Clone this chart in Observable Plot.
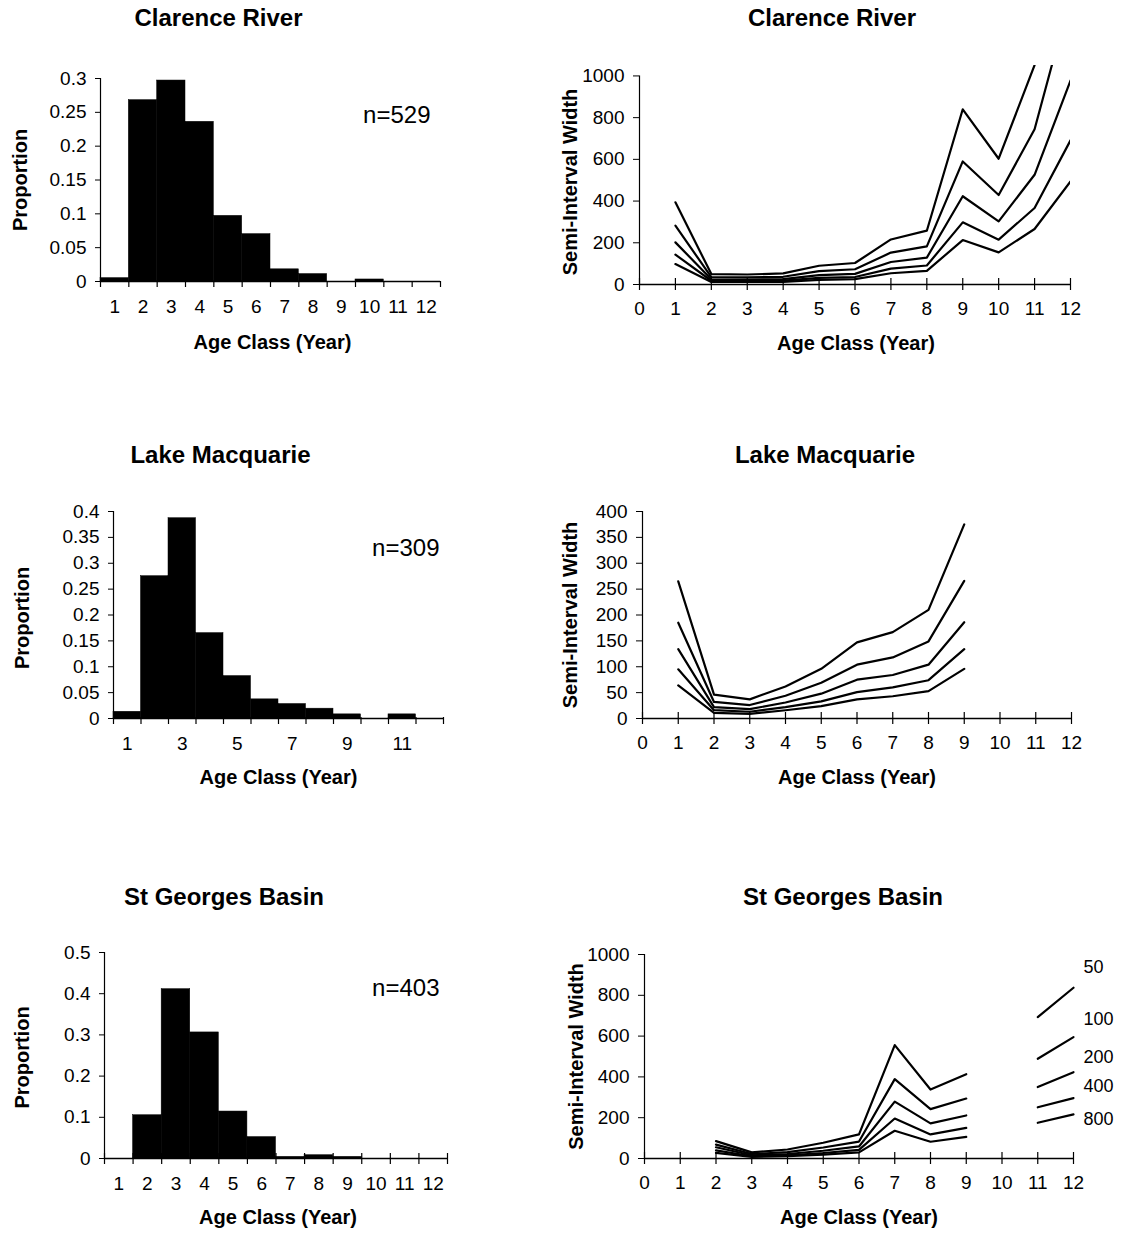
<!DOCTYPE html>
<html><head><meta charset="utf-8">
<script src="https://cdn.jsdelivr.net/npm/d3@7"></script>
<script src="https://cdn.jsdelivr.net/npm/@observablehq/plot@0.6"></script>
<style>
body{margin:0;background:#fff;}
#root{position:relative;width:1128px;height:1233px;background:#fff;overflow:hidden;}
#root svg{position:absolute;}
</style></head>
<body><div id="root"></div>
<script>
// ---------- data ----------
const ageClasses = [1, 2, 3, 4, 5, 6, 7, 8, 9, 10, 11, 12];
const clarenceProportion = [0.005, 0.268, 0.297, 0.236, 0.097, 0.070, 0.018, 0.011, 0, 0.003, 0, 0];
const lakeProportion     = [0.013, 0.275, 0.387, 0.165, 0.082, 0.037, 0.028, 0.019, 0.008, 0, 0.008, 0];
const stGeorgesProportion = [0, 0.105, 0.411, 0.306, 0.114, 0.052, 0.004, 0.008, 0.004, 0, 0, 0];

const clarenceN = "n=529";
const lakeN = "n=309";
const stGeorgesN = "n=403";

const clarencePropTicks = [0, 0.05, 0.1, 0.15, 0.2, 0.25, 0.3];
const lakePropTicks = [0, 0.05, 0.1, 0.15, 0.2, 0.25, 0.3, 0.35, 0.4];
const stGeorgesPropTicks = [0, 0.1, 0.2, 0.3, 0.4, 0.5];
const clarenceHistLabels = [1, 2, 3, 4, 5, 6, 7, 8, 9, 10, 11, 12];
const lakeHistLabels = [1, 3, 5, 7, 9, 11];
const stGeorgesHistLabels = [1, 2, 3, 4, 5, 6, 7, 8, 9, 10, 11, 12];

const sampleSizes = [50, 100, 200, 400, 800];
const widthXTicks = [0, 1, 2, 3, 4, 5, 6, 7, 8, 9, 10, 11, 12];

// Clarence River semi-interval widths, ages 1..12
const clarenceAges = [1, 2, 3, 4, 5, 6, 7, 8, 9, 10, 11, 12];
const clarenceW50  = [394, 50, 48, 53, 90, 103, 216, 258, 840, 603, 1052, 1956];
const clarenceW100 = [282, 35, 34, 37, 64, 73, 153, 183, 590, 429, 744, 1383];
const clarenceW200 = [202, 25, 24, 26, 45, 51, 108, 129, 423, 303, 526, 978];
const clarenceW400 = [143, 18, 17, 19, 32, 36, 76, 91, 298, 215, 367, 691];
const clarenceW800 = [98, 12, 12, 13, 22, 26, 54, 65, 213, 154, 266, 494];
const clarenceWTicks = [0, 200, 400, 600, 800, 1000];

// Lake Macquarie, ages 1..9
const lakeAges = [1, 2, 3, 4, 5, 6, 7, 8, 9];
const lakeW50  = [265, 46, 37, 62, 96, 147, 167, 210, 375];
const lakeW100 = [185, 32, 26, 44, 69, 104, 118, 149, 266];
const lakeW200 = [134, 22, 18, 31, 48, 75, 84, 104, 186];
const lakeW400 = [95, 16, 13, 22, 33, 51, 60, 74, 134];
const lakeW800 = [64, 11, 9, 16, 24, 37, 43, 53, 96];
const lakeWTicks = [0, 50, 100, 150, 200, 250, 300, 350, 400];

// St Georges Basin, ages 2..9
const stGeorgesAges = [2, 3, 4, 5, 6, 7, 8, 9];
const stGeorgesW50  = [85, 30, 44, 77, 118, 556, 338, 413];
const stGeorgesW100 = [68, 22, 31, 54, 83, 389, 242, 294];
const stGeorgesW200 = [55, 16, 22, 38, 59, 279, 172, 211];
const stGeorgesW400 = [40, 11, 16, 27, 42, 196, 118, 150];
const stGeorgesW800 = [28, 8, 11, 19, 30, 136, 82, 106];
const stGeorgesWTicks = [0, 200, 400, 600, 800, 1000];

// key segments (ages 11..12) and their labels
const keyAges = [11, 12];
const key50  = [693, 837];
const key100 = [489, 595];
const key200 = [350, 423];
const key400 = [251, 296];
const key800 = [175, 216];
const keyLabels = ["50", "100", "200", "400", "800"];
const keyLabelY = [938, 681, 497, 354, 191];

// ---------- drawing ----------
const FONT = "'Liberation Sans', Arial, Helvetica, sans-serif";
const root = document.getElementById("root");

function place(svg, left, top) {
  svg.style.left = left + "px";
  svg.style.top = top + "px";
  root.appendChild(svg);
}

function label(text, opts) {
  return Plot.text([text], {text: d => d, textAnchor: "middle", lineAnchor: "middle", fill: "black", ...opts});
}

function histogram(o) {
  const rows = ageClasses.map((a, i) => ({age: a, p: o.props[i]}));
  const yMax = o.yTicks[o.yTicks.length - 1];
  const edges = ageClasses.map(a => a - 0.5).concat([ageClasses[ageClasses.length - 1] + 0.5]);
  const svg = Plot.plot({
    width: o.w, height: o.h,
    marginLeft: o.mL, marginRight: o.mR, marginTop: o.mT, marginBottom: o.mB,
    x: {domain: [edges[0], edges[edges.length - 1]]},
    y: {domain: [0, yMax]},
    style: {fontFamily: FONT, fontSize: "19px", color: "black", background: "white", overflow: "visible"},
    marks: [
      Plot.rectY(rows, {x1: d => d.age - 0.5, x2: d => d.age + 0.5, y1: 0, y2: "p", fill: "black", stroke: "black", strokeWidth: 0.5}),
      Plot.ruleY([0], {x1: edges[0], x2: edges[edges.length - 1], stroke: "black", strokeWidth: 1.5}),
      Plot.ruleX([edges[0]], {y1: 0, y2: yMax, stroke: "black", strokeWidth: 1.2}),
      Plot.ruleX(edges, {x: d => d, y1: 0, y2: 0, insetTop: -o.tickUp, insetBottom: -6, stroke: "black", strokeWidth: 1.2}),
      Plot.axisY(o.yTicks, {tickSize: 5, tickPadding: 9, tickFormat: d => String(d), label: null, stroke: "black", fill: "black"}),
      Plot.axisX(o.labels, {tickSize: 0, tickPadding: 18, tickFormat: d => String(d), label: null, fill: "black"}),
      label(o.title, {frameAnchor: "top", dx: o.titleDx, dy: o.titleDy, fontSize: 24, fontWeight: "bold"}),
      label("Proportion", {frameAnchor: "left", dx: o.yLabDx, dy: o.yLabDy, rotate: -90, fontSize: 20, fontWeight: "bold"}),
      label("Age Class (Year)", {frameAnchor: "bottom", dx: o.xLabDx, dy: o.xLabDy, fontSize: 20, fontWeight: "bold"}),
      label(o.n, {frameAnchor: "top-right", textAnchor: "end", dx: o.nDx, dy: o.nDy, fontSize: 24})
    ]
  });
  place(svg, o.left, o.top);
}

function widthChart(o) {
  const rows = [];
  o.series.forEach((vals, k) => vals.forEach((w, i) => rows.push({n: sampleSizes[k], age: o.ages[i], w})));
  const tickTop = o.yTicks[o.yTicks.length - 1];
  const marks = [
    Plot.ruleY([0], {x1: widthXTicks[0], x2: widthXTicks[widthXTicks.length - 1], stroke: "black", strokeWidth: 1.5}),
    Plot.ruleX([widthXTicks[0]], {y1: 0, y2: tickTop, stroke: "black", strokeWidth: 1.2}),
    Plot.ruleX(widthXTicks, {x: d => d, y1: 0, y2: 0, insetTop: -6, insetBottom: -6, stroke: "black", strokeWidth: 1.2}),
    Plot.axisY(o.yTicks, {tickSize: 6, tickPadding: 9, tickFormat: d => String(d), label: null, stroke: "black", fill: "black"}),
    Plot.axisX(widthXTicks, {tickSize: 0, tickPadding: 17, tickFormat: d => String(d), label: null, fill: "black"}),
    Plot.line(rows, {x: "age", y: "w", z: "n", stroke: "black", strokeWidth: 2.2, clip: true}),
    label(o.title, {frameAnchor: "top", dx: o.titleDx, dy: o.titleDy, fontSize: 24, fontWeight: "bold"}),
    label("Semi-Interval Width", {frameAnchor: "left", dx: o.yLabDx, dy: o.yLabDy, rotate: -90, fontSize: 20, fontWeight: "bold"}),
    label("Age Class (Year)", {frameAnchor: "bottom", dx: o.xLabDx, dy: o.xLabDy, fontSize: 20, fontWeight: "bold"})
  ];
  if (o.key) {
    const keyRows = [];
    o.key.forEach((vals, k) => vals.forEach((w, i) => keyRows.push({n: sampleSizes[k], age: keyAges[i], w})));
    marks.push(Plot.line(keyRows, {x: "age", y: "w", z: "n", stroke: "black", strokeWidth: 2.2}));
    const labRows = keyLabels.map((t, i) => ({t, y: keyLabelY[i]}));
    marks.push(Plot.text(labRows, {x: () => keyAges[keyAges.length - 1], y: "y", text: "t", dx: 10, textAnchor: "start", lineAnchor: "middle", fontSize: 18, fill: "black"}));
  }
  const svg = Plot.plot({
    width: o.w, height: o.h,
    marginLeft: o.mL, marginRight: o.mR, marginTop: o.mT, marginBottom: o.mB,
    x: {domain: [widthXTicks[0], widthXTicks[widthXTicks.length - 1]]},
    y: {domain: [0, o.yTop]},
    style: {fontFamily: FONT, fontSize: "19px", color: "black", background: "white", overflow: "visible"},
    marks
  });
  place(svg, o.left, o.top);
}

histogram({
  left: 0, top: 0, w: 540, h: 400, mL: 100, mR: 100, mT: 78, mB: 119,
  props: clarenceProportion, yTicks: clarencePropTicks, labels: clarenceHistLabels,
  title: "Clarence River", titleDx: -52, titleDy: -60,
  yLabDx: -80, yLabDy: 0, xLabDx: 2, xLabDy: 61, n: clarenceN, nDx: -10, nDy: 37, tickUp: 0
});
histogram({
  left: 0, top: 400, w: 540, h: 440, mL: 113, mR: 97, mT: 111, mB: 122,
  props: lakeProportion, yTicks: lakePropTicks, labels: lakeHistLabels,
  title: "Lake Macquarie", titleDx: -58, titleDy: -56,
  yLabDx: -91, yLabDy: 3, xLabDx: 0, xLabDy: 59, n: lakeN, nDx: -4, nDy: 37, tickUp: 1
});
histogram({
  left: 0, top: 840, w: 540, h: 393, mL: 104, mR: 93, mT: 112, mB: 75,
  props: stGeorgesProportion, yTicks: stGeorgesPropTicks, labels: stGeorgesHistLabels,
  title: "St Georges Basin", titleDx: -52, titleDy: -55,
  yLabDx: -82, yLabDy: 2, xLabDx: 2, xLabDy: 59, n: stGeorgesN, nDx: -8, nDy: 36, tickUp: 5
});

widthChart({
  left: 540, top: 0, w: 588, h: 400, mL: 99, mR: 58, mT: 65, mB: 116,
  ages: clarenceAges, series: [clarenceW50, clarenceW100, clarenceW200, clarenceW400, clarenceW800],
  yTicks: clarenceWTicks, yTop: 1050,
  title: "Clarence River", titleDx: -23, titleDy: -47,
  yLabDx: -69, yLabDy: 7, xLabDx: 1, xLabDy: 59
});
widthChart({
  left: 540, top: 400, w: 588, h: 440, mL: 102, mR: 57, mT: 111, mB: 122,
  ages: lakeAges, series: [lakeW50, lakeW100, lakeW200, lakeW400, lakeW800],
  yTicks: lakeWTicks, yTop: 400,
  title: "Lake Macquarie", titleDx: -32, titleDy: -56,
  yLabDx: -72, yLabDy: 0, xLabDx: 0, xLabDy: 59
});
widthChart({
  left: 540, top: 840, w: 588, h: 393, mL: 104, mR: 55, mT: 114, mB: 75,
  ages: stGeorgesAges, series: [stGeorgesW50, stGeorgesW100, stGeorgesW200, stGeorgesW400, stGeorgesW800],
  yTicks: stGeorgesWTicks, yTop: 1000,
  title: "St Georges Basin", titleDx: -16, titleDy: -57,
  yLabDx: -68, yLabDy: 0, xLabDx: 0, xLabDy: 59,
  key: [key50, key100, key200, key400, key800]
});
</script>
</body></html>
